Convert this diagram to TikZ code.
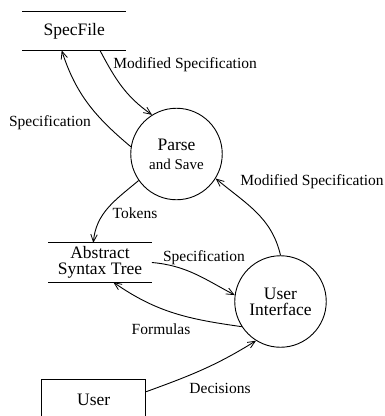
\documentclass[tikz,border=0pt]{standalone}
\usepackage{fontspec}
\setmainfont{Liberation Serif}
\usetikzlibrary{arrows.meta,calc}
\begin{document}
\begin{tikzpicture}[x=1pt,y=-1pt,
  line width=0.9pt,
  bigtext/.style={font=\fontsize{17.5}{16}\selectfont},
  lbl/.style={font=\fontsize{15.5}{16}\selectfont, inner sep=0pt},
  process/.style={circle, draw, minimum size=91.5pt, inner sep=0pt, align=center, bigtext},
  store/.style={minimum width=103pt, minimum height=38.4pt, inner sep=0pt, align=center, bigtext},
  entity/.style={draw, minimum width=104pt, minimum height=42pt, inner sep=0pt, bigtext},
  flow/.style={-{Straight Barb[length=7.5pt,width=6.5pt,line width=0.8pt]}}
]
\useasboundingbox (0,0) rectangle (385,416);

% data stores
\node[store] (spec) at (74.2,30.8) {SpecFile};
\draw (spec.north west) -- (spec.north east);
\draw (spec.south west) -- (spec.south east);

\node[store] (ast) at (100,262.5) {Abstract\\Syntax Tree};
\draw (ast.north west) -- (ast.north east);
\draw (ast.south west) -- (ast.south east);

% processes
\node[process] (parse) at (176.5,154) {Parse\\[3pt]{\fontsize{15}{15}\selectfont and Save}};
\node[process] (ui) at (280.5,301.5) {User\\Interface};

% external entity
\node[entity] (user) at (93.7,400) {User};

% flows
\draw[flow] ($(spec.south)+(25.8,0)$) to[out=-62,in=145] (parse.122);
\draw[flow] (parse.171) to[out=140,in=-72] ($(spec.south)+(-12.5,0)$);
\draw[flow] (parse.215) to[out=-140,in=85] ($(ast.north)+(-6.7,0)$);
\draw[flow] (ast.east) to[out=-5,in=152] (ui.172);
\draw[flow] (ui.213) to[out=172,in=-35] ($(ast.south)+(13.3,0)$);
\draw[flow] ($(user.east)+(0,-8.3)$) to[out=20,in=-148] (ui.238);
\draw[flow] (ui.90) to[out=103,in=-40] (parse.-32);

% flow labels
\node[lbl, anchor=west] (l1) at (113,65) {Modified Specification};
\node[lbl] (l2) at (50,123) {Specification};
\node[lbl] (l3) at (135,213) {Tokens};
\node[lbl] (l4) at (204,258) {Specification};
\node[lbl] (l5) at (161,329) {Formulas};
\node[lbl] (l6) at (220,388) {Decisions};
\node[lbl] (l7) at (312,182) {Modified Specification};
\end{tikzpicture}
\end{document}
